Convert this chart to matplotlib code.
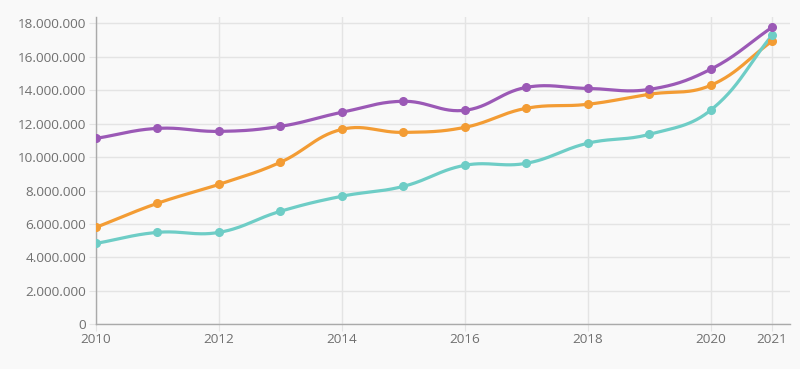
import numpy as np
import matplotlib.pyplot as plt
from matplotlib.ticker import FuncFormatter

years = [2010, 2011, 2012, 2013, 2014, 2015, 2016, 2017, 2018, 2019, 2020, 2021]
purple_vals = [11.12, 11.72, 11.54, 11.84, 12.68, 13.34, 12.80, 14.17, 14.11, 14.05, 15.25, 17.76]
orange_vals = [5.80, 7.24, 8.37, 9.69, 11.66, 11.48, 11.78, 12.92, 13.16, 13.76, 14.29, 16.93]
teal_vals = [4.84, 5.50, 5.50, 6.76, 7.66, 8.25, 9.51, 9.63, 10.83, 11.36, 12.80, 17.28]
x_ticks = [2010, 2012, 2014, 2016, 2018, 2020, 2021]

# pixels per unit, so the curve is smoothed like on screen
SX = 61.45   # px per year
SY = 16.72   # px per million


def spline(x, y, t=0.4, n=30):
    # bezier smoothing with tension, same idea as chart.js splineCurve
    px = np.array(x, float) * SX
    py = np.array(y, float) * SY
    m = len(px)
    c1 = np.zeros((m, 2))
    c2 = np.zeros((m, 2))
    for i in range(m):
        p0 = np.array([px[max(i - 1, 0)], py[max(i - 1, 0)]])
        p1 = np.array([px[i], py[i]])
        p2 = np.array([px[min(i + 1, m - 1)], py[min(i + 1, m - 1)]])
        d01 = np.hypot(*(p1 - p0))
        d12 = np.hypot(*(p2 - p1))
        tot = d01 + d12
        s01 = d01 / tot if tot else 0
        s12 = d12 / tot if tot else 0
        c1[i] = p1 - t * s01 * (p2 - p0)
        c2[i] = p1 + t * s12 * (p2 - p0)
    xs, ys = [], []
    u = np.linspace(0, 1, n)
    for i in range(m - 1):
        a = np.array([px[i], py[i]])
        b = c2[i]
        c = c1[i + 1]
        d = np.array([px[i + 1], py[i + 1]])
        pts = ((1 - u) ** 3)[:, None] * a + (3 * (1 - u) ** 2 * u)[:, None] * b \
            + (3 * (1 - u) * u ** 2)[:, None] * c + (u ** 3)[:, None] * d
        xs.extend(pts[:, 0])
        ys.extend(pts[:, 1])
    return np.array(xs) / SX, np.array(ys) / SY * 1e6


plt.rcParams['font.family'] = ['Open Sans', 'DejaVu Sans']

fig = plt.figure(figsize=(8, 3.69), dpi=100)
fig.patch.set_facecolor('#f9f9f9')
ax = fig.add_axes([0.12, 0.121, 0.868, 0.832])
ax.set_facecolor('#f9f9f9')

series = [(orange_vals, '#f39c34'), (teal_vals, '#6ecdc6'), (purple_vals, '#9b59b6')]
for vals, col in series:
    sx, sy = spline(years, vals)
    ax.plot(sx, sy, color=col, lw=2.3, solid_capstyle='round', zorder=3)
    ax.plot(years, np.array(vals) * 1e6, 'o', color=col, ms=5.5, zorder=4)

ax.set_xlim(2010, 2021.3)
ax.set_ylim(0, 18.36e6)
ax.set_xticks(x_ticks)
ax.set_yticks(np.arange(0, 18.1e6, 2e6))
ax.yaxis.set_major_formatter(FuncFormatter(lambda v, p: f"{int(v):,}".replace(',', '.')))

ax.grid(True, color='#e4e4e4', lw=1)
ax.set_axisbelow(True)
for s in ['top', 'right']:
    ax.spines[s].set_visible(False)
for s in ['left', 'bottom']:
    ax.spines[s].set_color('#aaaaaa')
    ax.spines[s].set_linewidth(1)
ax.tick_params(axis='both', colors='#e4e4e4', labelcolor='#707070', labelsize=9.7, length=5)
ax.tick_params(axis='x', pad=1)
ax.tick_params(axis='y', pad=2)

fig.savefig('out.png', dpi=100, facecolor=fig.get_facecolor())
